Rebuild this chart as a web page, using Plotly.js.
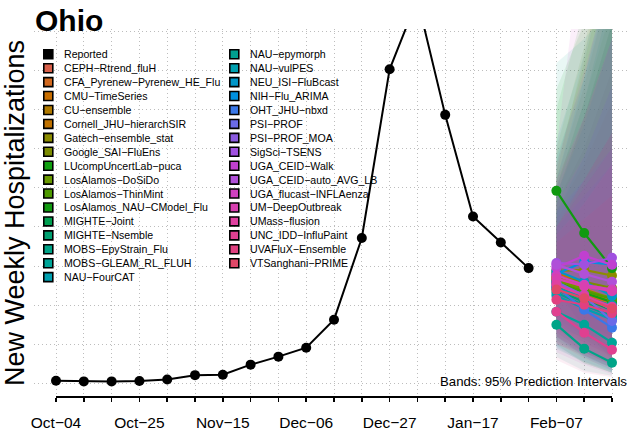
<!DOCTYPE html>
<html><head><meta charset="utf-8">
<script src="https://cdn.plot.ly/plotly-3.0.1.min.js"></script>
<style>html,body{margin:0;padding:0;background:#fff}#chart{width:630px;height:432px}</style>
</head><body><div id="chart"></div>
<script>
// ---- data ----
const obsDates = ['2025-10-04','2025-10-11','2025-10-18','2025-10-25','2025-11-01','2025-11-08','2025-11-15','2025-11-22','2025-11-29','2025-12-06','2025-12-13','2025-12-20','2025-12-27','2026-01-03','2026-01-10','2026-01-17','2026-01-24','2026-01-31'];
const obsValues = [18, 14, 14, 17, 26, 54, 57, 121, 172, 229, 408, 929, 2006, 2452, 1715, 1066, 901, 737];
const fcDates = ['2026-02-07','2026-02-14','2026-02-21'];
const tickLabels = ['Oct−04','','','Oct−25','','','Nov−15','','','Dec−06','','','Dec−27','','','Jan−17','','','Feb−07','',''];
const models = ['CEPH−Rtrend_fluH','CFA_Pyrenew−Pyrenew_HE_Flu','CMU−TimeSeries','CU−ensemble','Cornell_JHU−hierarchSIR','Gatech−ensemble_stat','Google_SAI−FluEns','LUcompUncertLab−puca','LosAlamos−DoSiDo','LosAlamos−ThinMint','LosAlamos_NAU−CModel_Flu','MIGHTE−Joint','MIGHTE−Nsemble','MOBS−EpyStrain_Flu','MOBS−GLEAM_RL_FLUH','NAU−FourCAT','NAU−epymorph','NAU−vulPES','NEU_ISI−FluBcast','NIH−Flu_ARIMA','OHT_JHU−nbxd','PSI−PROF','PSI−PROF_MOA','SigSci−TSENS','UGA_CEID−Walk','UGA_CEID−auto_AVG_LB','UGA_flucast−INFLAenza','UM−DeepOutbreak','UMass−flusion','UNC_IDD−InfluPaint','UVAFluX−Ensemble','VTSanghani−PRIME'];
const modelColors = ['#D9604A','#D2691F','#C86E00','#B07A00','#C07200','#8C8C00','#7C8C00','#10A010','#6A9A00','#4E9A00','#109A10','#00A050','#00A070','#00A488','#00A598','#00A0B0','#00A090','#00A0B0','#0096C8','#0090E0','#3A78E8','#6A6AE8','#8A5AE0','#A050E0','#C040D0','#B050D8','#D040C0','#D840B0','#E040A0','#E04090','#E04080','#E04868'];
const median1 = [695,663,707,675,644,720,680,650,660,640,1230,620,600,376,459,612,580,560,720,700,620,650,640,770,740,758,690,670,630,459,535,600];
const median2 = [612,580,644,599,567,726,650,580,600,590,961,540,520,223,376,550,500,480,650,777,471,560,567,760,816,700,631,620,560,325,503,545];
const median3 = [535,503,580,516,484,690,610,520,545,540,737,470,440,133,261,500,430,410,560,760,357,400,470,803,758,650,600,590,490,216,450,480];
const lower1 = [420,380,350,300,330,400,450,250,380,360,600,300,280,170,220,270,230,240,400,350,300,330,300,380,250,350,200,320,300,150,250,260];
const lower2 = [300,260,220,180,200,330,380,130,280,260,350,200,180,80,140,170,130,140,280,300,170,200,180,320,200,260,120,240,200,70,180,160];
const lower3 = [210,170,130,100,120,260,300,70,200,180,150,120,100,50,70,100,70,80,180,250,80,110,100,280,140,180,60,170,120,40,120,90];
const upper1 = [1100,1200,1350,1300,1150,1250,1050,1750,1400,1500,1880,1200,1250,1000,1100,1550,2046,1450,1200,1300,1100,1000,1050,1250,1400,1150,1500,1000,950,1300,900,1000];
const upper2 = [1400,1700,2100,1900,1500,1800,1300,2400,2050,2150,2300,1700,1800,1250,1450,2100,2200,1950,1650,1950,1300,1200,1300,1700,2000,1450,2950,1250,1150,1700,1050,1300];
const upper3 = [1800,2300,2900,2600,2000,2400,1600,3200,2800,3000,2700,2300,2500,1500,1900,2800,2400,2600,2200,2700,1500,1400,1600,2200,2600,1900,3800,1500,1400,2200,1200,1600];

// ---- geometry helpers (layout only) ----
const W = 630, H = 432, ML = 34, MR = 0, MT = 29, MB = 34.7;
const PW = W - ML - MR, PH = H - MT - MB;
const px = v => (v - ML) / PW;
const py = v => (H - MB - v) / PH;
const FONT = 'Liberation Sans, Arial, Helvetica, sans-serif';

function rgba(hex, a) {
  const n = parseInt(hex.slice(1), 16);
  return `rgba(${(n >> 16) & 255},${(n >> 8) & 255},${n & 255},${a})`;
}

const traces = [];
// prediction bands
models.forEach((m, i) => {
  traces.push({
    type: 'scatter', mode: 'lines', name: m + ' 95% PI', showlegend: false, hoverinfo: 'skip',
    x: fcDates.concat(fcDates.slice().reverse()),
    y: [lower1[i], lower2[i], lower3[i], upper3[i], upper2[i], upper1[i]],
    fill: 'toself', fillcolor: rgba(modelColors[i], 0.085), line: {width: 0}
  });
});
// reported
traces.push({
  type: 'scatter', mode: 'lines+markers', name: 'Reported', showlegend: false,
  x: obsDates, y: obsValues,
  line: {color: '#000', width: 2}, marker: {color: '#000', size: 10}
});
// medians
models.forEach((m, i) => {
  traces.push({
    type: 'scatter', mode: 'lines+markers', name: m, showlegend: false,
    x: fcDates, y: [median1[i], median2[i], median3[i]],
    line: {color: modelColors[i], width: 2.2}, marker: {color: modelColors[i], size: 10}
  });
});

// custom legend (two columns)
const legendNames = ['Reported'].concat(models);
const legendColors = ['#000'].concat(modelColors);
const shapes = [], annotations = [];
legendNames.forEach((nm, k) => {
  const col = k < 17 ? 0 : 1;
  const row = col === 0 ? k : k - 17;
  const cx = col === 0 ? 48.3 : 234.3;
  const tx = col === 0 ? 63 : 249.3;
  const cy = 54.3 + 13.94 * row;
  shapes.push({type: 'rect', xref: 'paper', yref: 'paper',
    x0: px(cx - 4.5), x1: px(cx + 4.5), y0: py(cy + 4.5), y1: py(cy - 4.5),
    fillcolor: legendColors[k], line: {color: '#000', width: 1.6}});
  annotations.push({xref: 'paper', yref: 'paper', x: px(tx), y: py(cy), xanchor: 'left', yanchor: 'middle',
    text: nm, showarrow: false, borderpad: 0, font: {family: FONT, size: 10.6, color: '#000'}});
});
annotations.push({xref: 'paper', yref: 'paper', x: px(628), y: py(382), xanchor: 'right', yanchor: 'middle',
  text: 'Bands: 95% Prediction Intervals', showarrow: false, borderpad: 0, font: {family: FONT, size: 13.2, color: '#000'}});
// x axis line spanning first to last tick
const allDates = obsDates.concat(fcDates);
shapes.push({type: 'line', xref: 'x', yref: 'paper', x0: allDates[0], x1: allDates[allDates.length - 1], y0: 0, y1: 0,
  line: {color: '#000', width: 1.8}});

const layout = {
  width: W, height: H, margin: {l: ML, r: MR, t: MT, b: MB},
  paper_bgcolor: '#fff', plot_bgcolor: '#fff', showlegend: false,
  font: {family: FONT, color: '#000'},
  title: {text: 'Ohio', font: {family: FONT, size: 30, weight: 'bold', color: '#000'},
    xref: 'container', yref: 'container', x: 35 / W, xanchor: 'left', y: 1 - 20 / H, yanchor: 'middle'},
  xaxis: {type: 'date', range: ['2025-09-28 11:00', '2026-02-25 12:45'],
    tickmode: 'array', tickvals: allDates, ticktext: tickLabels,
    ticks: 'outside', ticklen: 3.5, tickwidth: 1.5, tickcolor: '#000', ticklabelstandoff: 8,
    showgrid: true, gridcolor: '#bdbdbd', gridwidth: 1, griddash: '1px,3px',
    showline: false, zeroline: false, tickfont: {family: FONT, size: 15.5, color: '#000'}},
  yaxis: {range: [-85.5, 2263], tick0: 0, dtick: 250, showticklabels: false, ticks: '',
    showgrid: true, gridcolor: '#bdbdbd', gridwidth: 1, griddash: '1px,3px',
    showline: false, zeroline: false,
    title: {text: 'New Weekly Hospitalizations', standoff: 0, font: {family: FONT, size: 27, color: '#000'}}},
  shapes: shapes, annotations: annotations
};
Plotly.newPlot('chart', traces, layout, {staticPlot: true});
</script></body></html>
